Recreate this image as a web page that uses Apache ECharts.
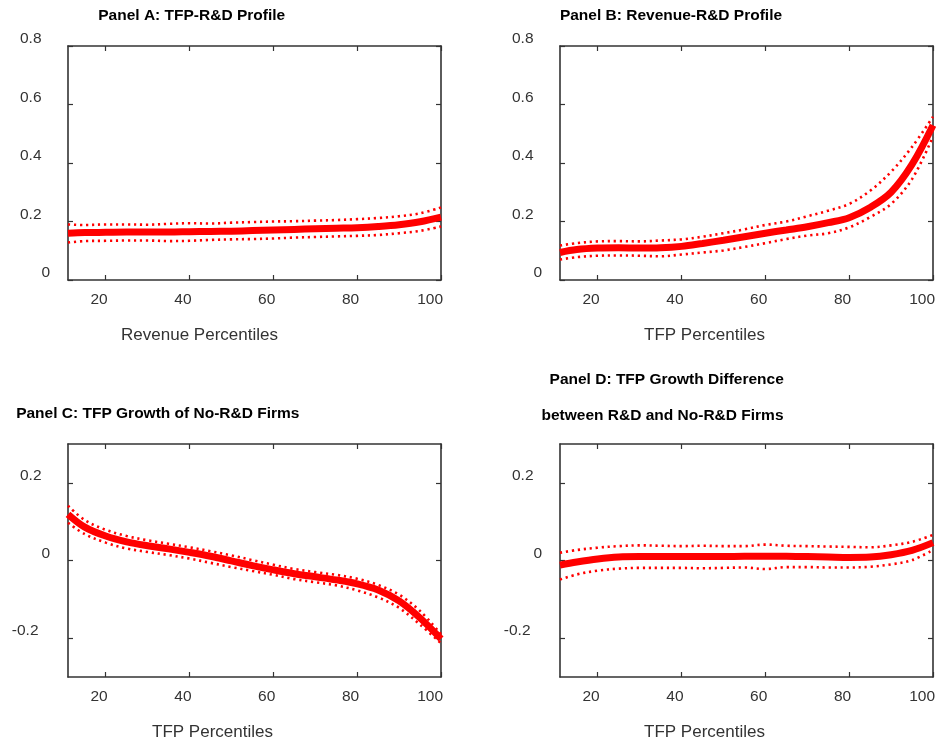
<!DOCTYPE html>
<html>
<head>
<meta charset="utf-8">
<script src="https://cdn.jsdelivr.net/npm/echarts@6/dist/echarts.min.js"></script>
<style>html,body{margin:0;padding:0;background:#fff}#c{width:942px;height:750px}</style>
</head>
<body>
<div id="c"></div>
<script>
// Percentile grid (x values)
const pct = [11,15,20,25,30,35,40,45,50,55,60,65,70,75,80,85,90,95,100];

// Panel A: TFP-R&D Profile
const aMain  = [0.160,0.162,0.163,0.164,0.164,0.164,0.165,0.166,0.167,0.169,0.171,0.173,0.175,0.177,0.179,0.183,0.189,0.199,0.215];
const aUpper = [0.190,0.188,0.190,0.190,0.189,0.192,0.194,0.193,0.196,0.198,0.200,0.201,0.203,0.205,0.208,0.212,0.218,0.228,0.248];
const aLower = [0.128,0.133,0.134,0.135,0.135,0.133,0.134,0.137,0.139,0.140,0.142,0.145,0.147,0.149,0.151,0.154,0.160,0.168,0.183];

// Panel B: Revenue-R&D Profile
const bMain  = [0.094,0.104,0.109,0.110,0.109,0.110,0.115,0.125,0.136,0.148,0.160,0.171,0.182,0.196,0.213,0.248,0.300,0.395,0.529];
const bUpper = [0.118,0.126,0.132,0.133,0.132,0.135,0.139,0.148,0.160,0.173,0.188,0.200,0.218,0.237,0.260,0.305,0.370,0.455,0.558];
const bLower = [0.070,0.078,0.083,0.084,0.083,0.081,0.087,0.094,0.101,0.113,0.126,0.140,0.152,0.160,0.180,0.215,0.260,0.345,0.490];

// Panel C: TFP Growth of No-R&D Firms
const cMain  = [0.119,0.086,0.063,0.048,0.038,0.030,0.021,0.011,-0.001,-0.013,-0.024,-0.034,-0.042,-0.050,-0.060,-0.076,-0.104,-0.148,-0.202];
const cUpper = [0.141,0.104,0.079,0.063,0.052,0.043,0.034,0.024,0.013,0.001,-0.011,-0.022,-0.030,-0.037,-0.047,-0.063,-0.088,-0.130,-0.190];
const cLower = [0.097,0.068,0.046,0.031,0.022,0.014,0.005,-0.006,-0.017,-0.027,-0.037,-0.048,-0.056,-0.064,-0.077,-0.095,-0.122,-0.165,-0.213];

// Panel D: TFP Growth Difference between R&D and No-R&D Firms
const dMain  = [-0.012,-0.004,0.004,0.009,0.010,0.010,0.010,0.010,0.010,0.011,0.011,0.011,0.010,0.009,0.008,0.009,0.015,0.026,0.046];
const dUpper = [0.020,0.027,0.033,0.037,0.039,0.038,0.037,0.038,0.037,0.037,0.041,0.038,0.037,0.036,0.035,0.034,0.039,0.048,0.066];
const dLower = [-0.049,-0.036,-0.026,-0.021,-0.019,-0.019,-0.019,-0.020,-0.019,-0.018,-0.022,-0.017,-0.017,-0.018,-0.018,-0.016,-0.010,0.001,0.027];

// Tick labels
const xTicks = [20,40,60,80,100];
const yTicksAB = [0,0.2,0.4,0.6,0.8];
const yTicksCD = [-0.2,0,0.2];

const titles = [
  {text:'Panel A: TFP-R&D Profile', x:191.7, y:16},
  {text:'Panel B: Revenue-R&D Profile', x:671, y:16},
  {text:'Panel C: TFP Growth of No-R&D Firms', x:157.8, y:414},
  {text:'Panel D: TFP Growth Difference', x:666.7, y:380},
  {text:'between R&D and No-R&D Firms', x:662.5, y:416}
];
const xNames = ['Revenue Percentiles','TFP Percentiles','TFP Percentiles','TFP Percentiles'];

const FONT = '"Liberation Sans", Arial, Helvetica, sans-serif';
const AX = '#333';
const RED = '#ff0000';

const panels = [
  {left:68, top:46, h:234, main:aMain, up:aUpper, lo:aLower, ymin:0, ymax:0.8, yt:yTicksAB, namePad:110},
  {left:560, top:46, h:234, main:bMain, up:bUpper, lo:bLower, ymin:0, ymax:0.8, yt:yTicksAB, namePad:84},
  {left:68, top:444, h:233, main:cMain, up:cUpper, lo:cLower, ymin:-0.3, ymax:0.3, yt:yTicksCD, namePad:84},
  {left:560, top:444, h:233, main:dMain, up:dUpper, lo:dLower, ymin:-0.3, ymax:0.3, yt:yTicksCD, namePad:84}
];

const grid = [], xAxis = [], yAxis = [], series = [];
const lineAx = {show:true, onZero:false, lineStyle:{color:AX, width:1.6}};
const labStyle = {fontSize:15.5, color:AX, fontFamily:FONT, lineHeight:14};

panels.forEach((p, i) => {
  grid.push({left:p.left, top:p.top, width:373, height:p.h, show:false});
  const tickIn = {show:true, inside:true, length:5, lineStyle:{color:AX, width:1.2}, customValues:xTicks};
  xAxis.push({
    type:'value', gridIndex:i, min:11, max:100, position:'bottom',
    axisLine:lineAx, axisTick:tickIn, splitLine:{show:false},
    axisLabel:{show:true, customValues:xTicks, align:'right', margin:12, fontSize:15.5, color:AX, fontFamily:FONT, padding:[0,-2,0,0]},
    name:xNames[i], nameLocation:'middle', nameGap:47,
    nameTextStyle:{fontSize:17, color:AX, fontFamily:FONT, padding:[0,p.namePad,0,0]}
  });
  xAxis.push({
    type:'value', gridIndex:i, min:11, max:100, position:'top',
    axisLine:lineAx, axisTick:tickIn, splitLine:{show:false}, axisLabel:{show:false}
  });
  const ytick = {show:true, inside:true, length:5, lineStyle:{color:AX, width:1.2}, customValues:p.yt};
  yAxis.push({
    type:'value', gridIndex:i, min:p.ymin, max:p.ymax, position:'left',
    axisLine:lineAx, axisTick:ytick, splitLine:{show:false},
    axisLabel:{
      show:true, customValues:p.yt, margin:18, verticalAlign:'bottom',
      formatter: v => v === 0 ? '{z|0}' : (v < 0 ? '{m|' + v + '}' : '{n|' + v + '}'),
      rich:{
        z:Object.assign({}, labStyle),
        n:Object.assign({padding:[0,8.5,0,0]}, labStyle),
        m:Object.assign({padding:[0,11.5,0,0]}, labStyle)
      }
    }
  });
  yAxis.push({
    type:'value', gridIndex:i, min:p.ymin, max:p.ymax, position:'right',
    axisLine:lineAx, axisTick:ytick, splitLine:{show:false}, axisLabel:{show:false}
  });
  const mk = arr => pct.map((x, k) => [x, arr[k]]);
  const base = {type:'line', xAxisIndex:2*i, yAxisIndex:2*i, showSymbol:false, symbol:'none', smooth:0.35, silent:true, animation:false};
  series.push(Object.assign({}, base, {data:mk(p.up), lineStyle:{color:RED, width:2.6, type:[2.2,3.8]}}));
  series.push(Object.assign({}, base, {data:mk(p.lo), lineStyle:{color:RED, width:2.6, type:[2.2,3.8]}}));
  series.push(Object.assign({}, base, {data:mk(p.main), lineStyle:{color:RED, width:7, cap:'butt'}}));
});

const graphic = titles.map(t => ({
  type:'text', x:t.x, y:t.y,
  style:{text:t.text, fill:'#000', font:'bold 15.5px ' + FONT, textAlign:'center', textVerticalAlign:'middle'}
}));

const chart = echarts.init(document.getElementById('c'), null, {renderer:'canvas'});
chart.setOption({animation:false, backgroundColor:'#fff', grid, xAxis, yAxis, series, graphic});
</script>
</body>
</html>
